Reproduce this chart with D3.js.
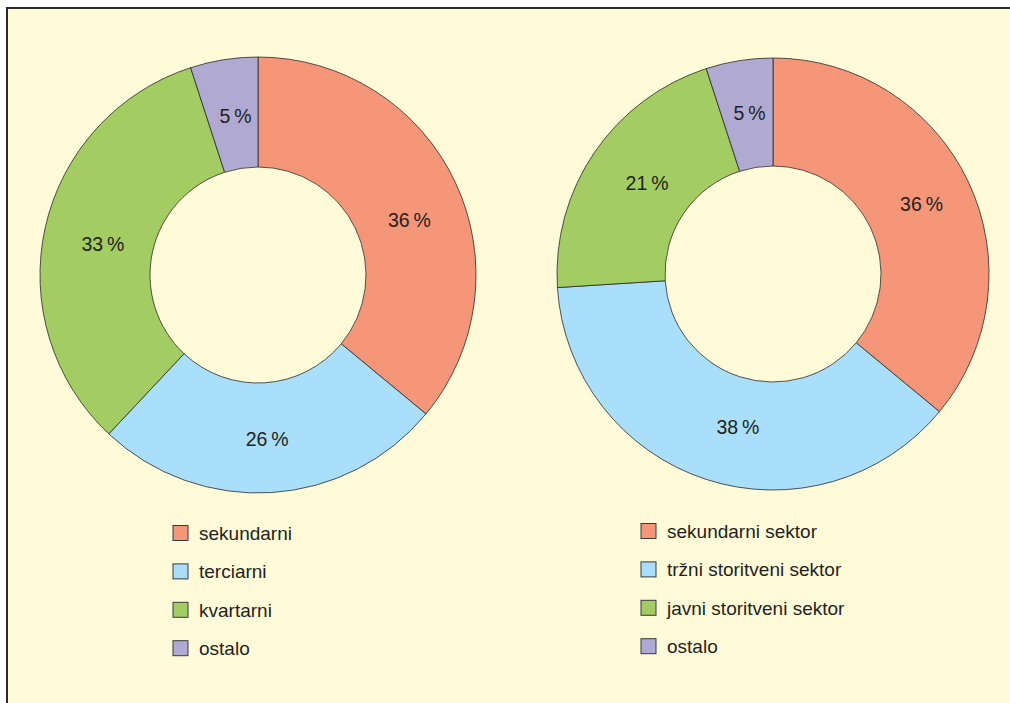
<!DOCTYPE html>
<html>
<head>
<meta charset="utf-8">
<script src="https://d3js.org/d3.v7.min.js"></script>
<style>
  body, html { margin: 0; padding: 0; background: #fff; }
  svg { display: block; }
  text { font-family: "Liberation Sans", Arial, sans-serif; fill: #231f20; }
</style>
</head>
<body>
<div id="chart"></div>
<script>
// data
var leftLabels = ["sekundarni", "terciarni", "kvartarni", "ostalo"];
var leftValues = [36, 26, 33, 5];
var rightLabels = ["sekundarni sektor", "tržni storitveni sektor", "javni storitveni sektor", "ostalo"];
var rightValues = [36, 38, 21, 5];
var colors = ["#f59679", "#a9dffa", "#a3cd62", "#b0aad3"];

// small hand nudges of the % labels away from the arc centroid
var leftNudge = [[4, 14], [-1, 1], [4, 5], [3, 2]];
var rightNudge = [[2, -1], [15, -1], [8, 0], [2, -1]];

var width = 1010, height = 703;

var svg = d3.select("#chart").append("svg")
    .attr("width", width)
    .attr("height", height);

// panel background + top/left rule
svg.append("rect")
    .attr("x", 7).attr("y", 8)
    .attr("width", width - 7).attr("height", height - 8)
    .attr("fill", "#fffad8");
svg.append("path")
    .attr("d", "M7," + height + "V8H" + width)
    .attr("fill", "none")
    .attr("stroke", "#2a2a2a")
    .attr("stroke-width", 2);

var pie = d3.pie().sort(null).value(function(d) { return d; });

function donut(values, labels, nudge, cx, cy, rOut, rIn, legX, legY) {
    var arc = d3.arc().innerRadius(rIn).outerRadius(rOut);
    var g = svg.append("g").attr("transform", "translate(" + cx + "," + cy + ")");
    var arcs = pie(values);

    g.selectAll("path.slice")
        .data(arcs)
        .enter().append("path")
        .attr("class", "slice")
        .attr("d", arc)
        .attr("fill", function(d, i) { return colors[i]; })
        .attr("stroke", "#2a2a2a")
        .attr("stroke-width", 0.8);

    g.selectAll("text.pct")
        .data(arcs)
        .enter().append("text")
        .attr("class", "pct")
        .attr("transform", function(d, i) {
            var c = arc.centroid(d);
            return "translate(" + (c[0] + nudge[i][0]) + "," + (c[1] + nudge[i][1]) + ")";
        })
        .attr("text-anchor", "middle")
        .attr("dy", "0.36em")
        .style("font-size", "19.5px")
        .text(function(d) { return d.data + "\u2009%"; });

    var leg = svg.append("g").attr("transform", "translate(" + legX + "," + legY + ")");
    var rows = leg.selectAll("g")
        .data(labels)
        .enter().append("g")
        .attr("transform", function(d, i) { return "translate(0," + (i * 38.4) + ")"; });
    rows.append("rect")
        .attr("x", 0).attr("y", -7.5)
        .attr("width", 15).attr("height", 15)
        .attr("fill", function(d, i) { return colors[i]; })
        .attr("stroke", "#3a3a3a")
        .attr("stroke-width", 1);
    rows.append("text")
        .attr("x", 26)
        .attr("dy", "0.36em")
        .style("font-size", "19px")
        .text(function(d) { return d; });
}

donut(leftValues, leftLabels, leftNudge, 258, 275, 218, 108, 173, 533);
donut(rightValues, rightLabels, rightNudge, 773, 274, 216, 108, 641, 531);
</script>
</body>
</html>
